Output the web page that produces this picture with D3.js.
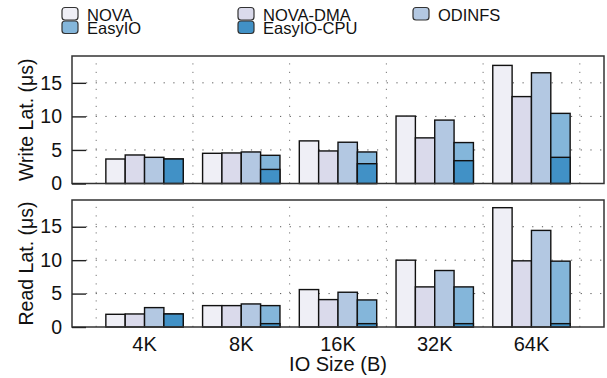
<!DOCTYPE html>
<html><head><meta charset="utf-8">
<script src="https://cdn.jsdelivr.net/npm/d3@7"></script>
<style>body{margin:0;background:#fff}svg{display:block;font-family:"Liberation Sans",Arial,sans-serif}</style>
</head><body><svg id="c" width="607" height="378"></svg>
<script>
const sizes = ["4K","8K","16K","32K","64K"];
const seriesNames = ["NOVA","NOVA-DMA","ODINFS","EasyIO","EasyIO-CPU"];
const seriesColors = ["#efeff6","#dadaeb","#b3c8e2","#84b6da","#4191c6"];
const yTicks = [0,5,10,15];
const writeNova = [3.65, 4.5, 6.35, 10.05, 17.6];
const writeNovaDma = [4.25, 4.55, 4.85, 6.8, 12.95];
const writeOdinfs = [3.9, 4.7, 6.15, 9.45, 16.5];
const writeEasyio = [3.65, 4.2, 4.7, 6.1, 10.45];
const writeEasyioCpu = [3.65, 2.1, 2.95, 3.4, 3.9];
const readNova = [1.9, 3.2, 5.6, 10.0, 17.85];
const readNovaDma = [1.95, 3.2, 4.1, 6.0, 9.9];
const readOdinfs = [2.9, 3.45, 5.2, 8.45, 14.45];
const readEasyio = [1.95, 3.2, 4.05, 6.0, 9.85];
const readEasyioCpu = [1.95, 0.5, 0.5, 0.5, 0.5];

const svg = d3.select("#c");
const L = 72, R = 604;
const x = d3.scaleBand().domain(sizes).range([L, R]).paddingInner(0.2).paddingOuter(0.35);
const xs = d3.scaleBand().domain([0,1,2,3]).range([0, x.bandwidth()]);

const panels = [
  {label:"Write Lat. (μs)", top:56, bottom:183.5, data:[writeNova,writeNovaDma,writeOdinfs,writeEasyio], cpu:writeEasyioCpu},
  {label:"Read Lat. (μs)", top:200, bottom:327, data:[readNova,readNovaDma,readOdinfs,readEasyio], cpu:readEasyioCpu}
];

panels.forEach(p => {
  const y = d3.scaleLinear().domain([0,19]).range([p.bottom, p.top]);
  const g = svg.append("g");
  // horizontal dotted grid
  g.selectAll("line.hg").data(yTicks.filter(d=>d>0)).join("line")
    .attr("x1", L+14).attr("x2", R).attr("y1", d=>y(d)).attr("y2", d=>y(d))
    .attr("stroke","#555").attr("stroke-width",1).attr("stroke-dasharray","1.2,8.5");
  // vertical dotted grid at category boundaries
  const bounds = sizes.map(s => x(s) - x.step()*x.paddingInner()/2).concat([x(sizes[sizes.length-1]) + x.bandwidth() + x.step()*x.paddingInner()/2]);
  g.selectAll("line.vg").data(bounds).join("line")
    .attr("x1", d=>d).attr("x2", d=>d).attr("y1", p.bottom).attr("y2", p.top)
    .attr("stroke","#777").attr("stroke-width",1).attr("stroke-dasharray","1.2,7.3");
  // bars
  p.data.forEach((arr, si) => {
    g.selectAll(null).data(arr).join("rect")
      .attr("x", (d,i)=>x(sizes[i]) + xs(si)).attr("width", xs.bandwidth())
      .attr("y", d=>y(d)).attr("height", d=>y(0)-y(d))
      .attr("fill", seriesColors[si]).attr("stroke","#111").attr("stroke-width",1.4);
  });
  g.selectAll(null).data(p.cpu).join("rect")
    .attr("x", (d,i)=>x(sizes[i]) + xs(3)).attr("width", xs.bandwidth())
    .attr("y", d=>y(d)).attr("height", d=>y(0)-y(d))
    .attr("fill", seriesColors[4]).attr("stroke","#111").attr("stroke-width",1.4);
  // frame
  g.append("rect").attr("x",L).attr("y",p.top).attr("width",R-L).attr("height",p.bottom-p.top)
    .attr("fill","none").attr("stroke","#333").attr("stroke-width",1.5);
  // y axis
  const ax = d3.axisLeft(y).tickValues(yTicks).tickSizeInner(-14).tickSizeOuter(0).tickPadding(10);
  const ag = g.append("g").attr("transform",`translate(${L},0)`).call(ax);
  ag.select(".domain").remove();
  ag.selectAll(".tick line").attr("stroke","#222").attr("stroke-width",1.4);
  ag.selectAll(".tick text").attr("font-size",19.5).attr("fill","#111").attr("x",-10).attr("font-family","Liberation Sans, Arial, sans-serif");
  // y label
  g.append("text").attr("transform",`translate(33,${(p.top+p.bottom)/2}) rotate(-90)`)
    .attr("text-anchor","middle").attr("font-size",19.5).attr("fill","#111").text(p.label);
});

// x axis labels
svg.append("g").selectAll("text").data(sizes).join("text")
  .attr("x", d=>x(d)+x.bandwidth()/2).attr("y", 350.5).attr("text-anchor","middle")
  .attr("font-size",20).attr("fill","#111").text(d=>d);
svg.append("text").attr("x",(L+R)/2).attr("y",371).attr("text-anchor","middle")
  .attr("font-size",20).attr("fill","#111").text("IO Size (B)");

// legend
const legPos = [[62,7.5],[238,7.5],[413,7.5],[62,21],[238,21]];
const lg = svg.append("g");
seriesNames.forEach((n,i)=>{
  const [lx,ly] = legPos[i];
  lg.append("rect").attr("x",lx).attr("y",ly).attr("width",16).attr("height",12.5).attr("rx",3)
    .attr("fill",seriesColors[i]).attr("stroke","#333").attr("stroke-width",1.2);
  lg.append("text").attr("x",lx+25).attr("y",ly+13).attr("font-size",16.5).attr("fill","#111").text(n);
});
</script></body></html>
